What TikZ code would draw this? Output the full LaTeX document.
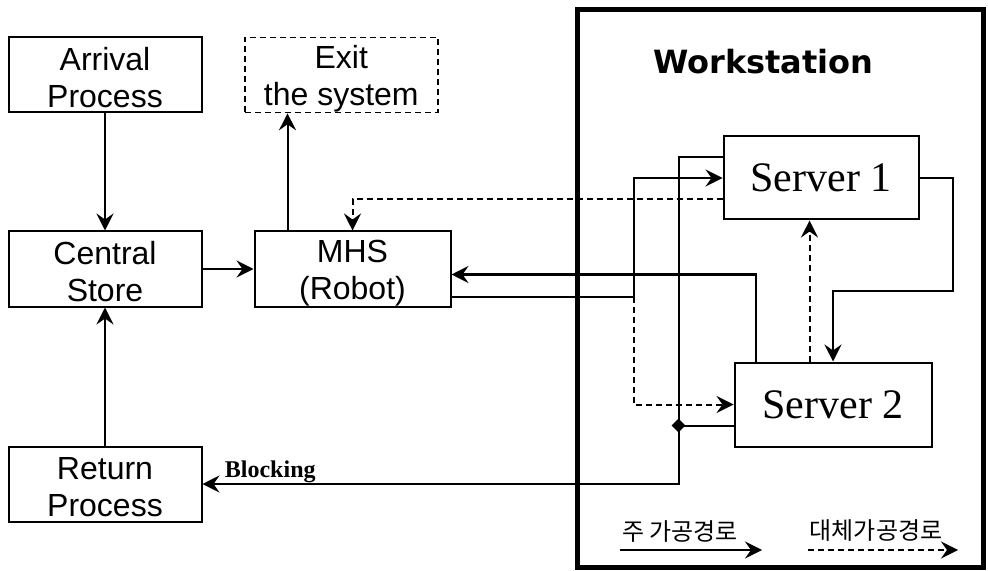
\documentclass[tikz,border=0pt]{standalone}
\usepackage{fontspec}
\setmainfont{Liberation Sans}
\newfontfamily\serverfont{Liberation Serif}
\newfontfamily\wsfont{DejaVu Sans}
\newfontfamily\krfont{Noto Sans CJK KR}
\usetikzlibrary{arrows.meta, positioning, calc, shapes.geometric}
% two centred lines with fixed top and bottom struts
\newcommand{\twolines}[2]{\rule{0pt}{15.5pt}#1\\#2\rule[-1.5pt]{0pt}{1.5pt}}

\begin{document}
\begin{tikzpicture}[x=0.5pt, y=-0.5pt,
      box/.style={rectangle, draw, line width=1pt, align=center, inner sep=0pt,
                  font=\fontsize{16}{18.5}\selectfont,
                  minimum width=96.5pt, minimum height=37.5pt},
      exitbox/.style={box, dash pattern=on 3pt off 2pt, line width=0.8pt},
      server/.style={rectangle, draw, line width=1pt, inner sep=0pt,
                     font=\serverfont\fontsize{21}{24}\selectfont,
                     minimum width=97.5pt, minimum height=41.5pt},
      frame/.style={rectangle, draw, line width=2.5pt, inner sep=0pt,
                    minimum width=203pt, minimum height=278.5pt},
      arr/.style={-{Stealth[length=8.5pt, width=8.5pt, inset=3pt]}, line width=1pt},
      alt/.style={arr, dash pattern=on 3pt off 2pt},
      plain/.style={line width=1pt},
      kr/.style={font=\krfont\fontsize{12}{14}\selectfont, inner sep=0pt},
      ]
    \useasboundingbox (0,0) rectangle (988,571);

    % left: arrival / store / return column
    \node[box] (arrival) at (105,75) {\twolines{Arrival}{Process}};
    \node[exitbox, right=20.75pt of arrival] (exit) {\twolines{Exit}{the system}};
    \node[box, below=58.5pt of arrival] (central) {\twolines{Central}{Store}};
    \node[box, minimum width=98pt, right=25.5pt of central] (mhs) {\twolines{MHS}{(Robot)}};
    \node[box, below=69pt of central] (return) {\twolines{Return}{Process}};

    % right: workstation with two servers
    \node[frame] (ws) at (780,288.5) {};
    \node[font=\wsfont\bfseries\fontsize{16}{19}\selectfont] (wstitle)
        at ([xshift=-8.25pt, yshift=-27pt]ws.north) {Workstation};
    \node[server, right=135.5pt of mhs, yshift=45.5pt] (server1) {Server 1};
    \node[server, minimum width=98.5pt, minimum height=42pt,
          below=70.5pt of server1, xshift=6pt] (server2) {Server 2};

    % helper points
    \coordinate (exitfoot) at ([xshift=17pt]mhs.north west);
    \coordinate (mhsout) at ([yshift=-13.75pt]mhs.east);
    \coordinate (fork) at ([xshift=91pt]mhsout);
    \coordinate (s2out) at ([xshift=11pt]server2.north west);
    \coordinate (s2up) at ([xshift=38pt]server2.north west);
    \coordinate (loop) at ([xshift=16.5pt]server1.east);
    \coordinate (drop) at ([yshift=35.5pt]server2.north);
    \coordinate (s1blk) at ([yshift=10.25pt]server1.west);
    \coordinate (s2blk) at ([yshift=-10.5pt]server2.west);
    \coordinate (jn) at ([xshift=-27.5pt]s2blk);

    \draw[arr] (arrival) -- (central);
    \draw[arr] (return) -- (central);
    \draw[arr] (central) -- (mhs);
    \draw[arr] (exitfoot) -- (exitfoot |- exit.south);

    % main route
    \draw[plain] (mhsout) -- (fork);
    \draw[arr] (fork) |- (server1.west);
    \draw[arr] (server1.east) -- (loop) |- (drop) -- (server2.north);
    \draw[arr] (s2out) |- ([yshift=-2.75pt]mhs.east);

    % alternative route
    \draw[alt] (fork) |- (server2.west);
    \draw[alt] (s2up) -- (s2up |- server1.south);
    \draw[alt] ([yshift=-10.75pt]server1.west) -| (mhs.north);

    % blocking back to return
    \draw[arr] (s1blk) -| (jn) |- (return.east);
    \draw[plain] (s2blk) -- (jn);
    \node[diamond, fill, inner sep=0pt, minimum size=7pt] (jdot) at (jn) {};
    \node[anchor=base west, inner sep=0pt, font=\serverfont\bfseries\fontsize{12}{14}\selectfont]
        (blk) at ([xshift=11pt, yshift=3.5pt]return.east) {Blocking};

    % legend
    \node[kr] (mainlbl) at (680,531) {주 가공경로};
    \node[kr] (altlbl) at (876,531) {대체가공경로};
    \coordinate (m0) at (620,550);
    \coordinate (m1) at (762,550);
    \coordinate (a0) at (808,550);
    \coordinate (a1) at (958,550);
    \draw[arr] (m0) -- (m1);
    \draw[alt] (a0) -- (a1);
  \end{tikzpicture}
\end{document}
